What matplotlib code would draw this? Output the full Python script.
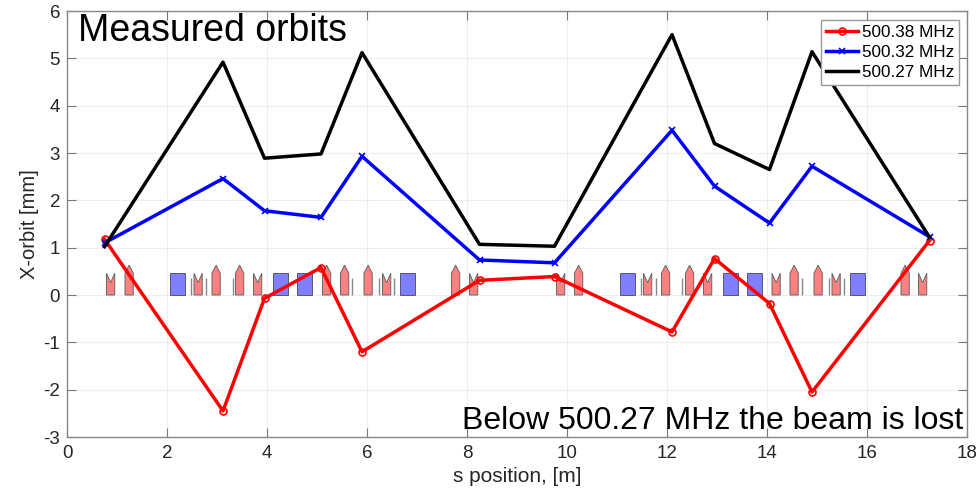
import matplotlib
matplotlib.use("Agg")
import matplotlib.pyplot as plt
from matplotlib.patches import Polygon, Rectangle

plt.rcParams['font.family'] = ['Liberation Sans', 'DejaVu Sans']
plt.rcParams['axes.unicode_minus'] = False

# BPM positions and measured orbits
s_pos = [0.75, 3.12, 3.95, 5.08, 5.90, 8.25, 9.75, 12.10, 12.95, 14.05, 14.90, 17.25]
orbit_38 = [1.18, -2.45, -0.07, 0.58, -1.20, 0.31, 0.39, -0.78, 0.77, -0.18, -2.05, 1.15]
orbit_32 = [1.10, 2.46, 1.78, 1.64, 2.93, 0.74, 0.68, 3.48, 2.30, 1.52, 2.72, 1.23]
orbit_27 = [1.02, 4.92, 2.89, 2.98, 5.12, 1.07, 1.03, 5.50, 3.20, 2.65, 5.14, 1.22]

# lattice elements, left edge in s
notch_s = [0.79, 2.54, 3.73, 6.31, 8.05, 9.79, 11.53, 12.73, 14.10, 15.30, 17.03]
point_s = [1.16, 2.90, 3.37, 5.11, 5.47, 5.94, 7.69, 10.15, 11.89, 12.37, 14.46, 14.94, 16.68]
bend_s = [2.06, 4.11, 4.59, 6.65, 11.05, 13.11, 13.59, 15.65]
thin_s = [2.47, 2.77, 3.31, 5.69, 6.23, 6.53, 11.47, 11.77, 12.30, 14.69, 15.23, 15.53]
quad_w = 0.165
bend_w = 0.30
mag_h = 0.46
tip_h = 0.63
notch_h = 0.26

fig = plt.figure(figsize=(9.8, 4.91), dpi=100)
ax = fig.add_axes([67 / 980, 1 - 437 / 491, 900 / 980, 426 / 491])

for s in notch_s:
    ax.add_patch(Polygon([(s, 0), (s + quad_w, 0), (s + quad_w, mag_h), (s + quad_w / 2, notch_h), (s, mag_h)],
                         facecolor='#ff8080', edgecolor='#666666', lw=0.7, zorder=2))
for s in point_s:
    ax.add_patch(Polygon([(s, 0), (s + quad_w, 0), (s + quad_w, mag_h), (s + quad_w / 2, tip_h), (s, mag_h)],
                         facecolor='#ff8080', edgecolor='#666666', lw=0.7, zorder=2))
for s in bend_s:
    ax.add_patch(Rectangle((s, 0), bend_w, mag_h, facecolor='#8080ff', edgecolor='#555577', lw=0.7, zorder=2))
ax.vlines(thin_s, 0, mag_h * 0.8, color='#888888', lw=1.0, zorder=2)

ax.plot(s_pos, orbit_38, color='#ff0000', lw=2.5, marker='o', ms=5, mfc='none', mew=1.2, label='500.38 MHz', zorder=3)
ax.plot(s_pos, orbit_32, color='#0000ff', lw=2.5, marker='x', ms=4, mew=1.2, label='500.32 MHz', zorder=3)
ax.plot(s_pos, orbit_27, color='#000000', lw=2.5, label='500.27 MHz', zorder=3)

ax.set_xlim(0, 18)
ax.set_ylim(-3, 6)
ax.set_xticks(range(0, 19, 2))
ax.set_yticks(range(-3, 7))
ax.grid(True, color='#eeeeee', lw=0.8)
ax.set_axisbelow(True)
ax.tick_params(direction='in', length=6.5, width=0.8, color='#777777', labelcolor='#262626',
               labelsize=13.5, top=True, right=True)
ax.tick_params(axis='x', pad=6)
ax.tick_params(axis='y', pad=5)
for side in ax.spines.values():
    side.set_color('#888888')
    side.set_linewidth(1.0)

ax.set_xlabel('s position, [m]', fontsize=15, color='#262626', labelpad=3)
ax.set_ylabel('X-orbit [mm]', fontsize=14.5, color='#262626', labelpad=3)

ax.legend(loc='upper right', bbox_to_anchor=(892 / 900, 417 / 426), fontsize=12.3, fancybox=False,
          edgecolor='#999999', framealpha=1, borderpad=0.3, labelspacing=0.28, handlelength=1.9,
          handletextpad=0.2, borderaxespad=0)

fig.text(78 / 980, 1 - 41 / 491, 'Measured orbits', fontsize=27, color='black')
fig.text(963 / 980, 1 - 429 / 491, 'Below 500.27 MHz the beam is lost', fontsize=23, color='black', ha='right')

fig.savefig('out.png', dpi=100)
